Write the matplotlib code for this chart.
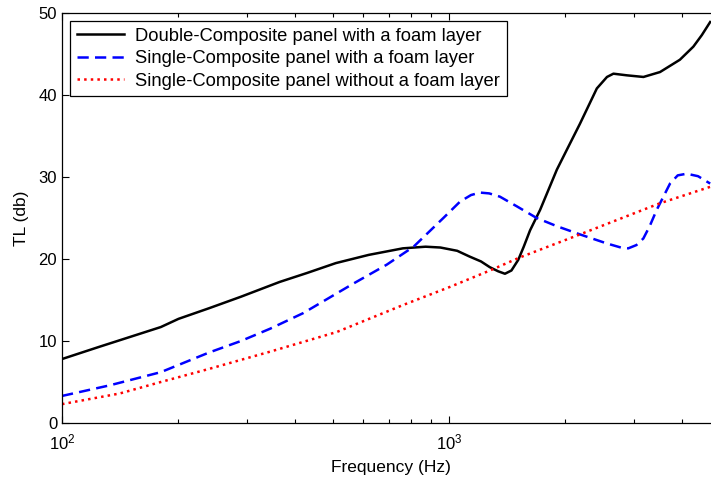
import matplotlib.pyplot as plt
import numpy as np
from matplotlib.ticker import LogLocator, FixedLocator, NullFormatter

plt.rcParams['font.family'] = ['Liberation Sans', 'DejaVu Sans']

# Double-Composite panel with a foam layer
f_double = [100, 125, 150, 180, 200, 240, 290, 365, 430, 510, 620, 760, 870, 950, 1050,
            1130, 1210, 1275, 1340, 1395, 1450, 1510, 1560, 1620, 1720, 1900, 2015,
            2180, 2410, 2560, 2660, 2880, 3180, 3510, 3950, 4280, 4500, 4730]
tl_double = [7.8, 9.3, 10.5, 11.7, 12.7, 14.0, 15.4, 17.2, 18.3, 19.5, 20.5, 21.3, 21.5,
             21.4, 21.0, 20.3, 19.7, 19.0, 18.5, 18.2, 18.6, 19.9, 21.5, 23.5, 26.0,
             30.9, 33.3, 36.5, 40.8, 42.2, 42.6, 42.4, 42.2, 42.8, 44.3, 45.9, 47.3, 48.9]

# Single-Composite panel with a foam layer
f_single = [100, 133, 180, 240, 290, 345, 420, 566, 690, 810, 967, 1068, 1140, 1203,
            1270, 1354, 1500, 1685, 1900, 2180, 2556, 2780, 2906, 3050, 3178, 3300,
            3442, 3725, 3900, 4114, 4400, 4730]
tl_single = [3.3, 4.6, 6.2, 8.6, 10.0, 11.5, 13.4, 17.0, 19.3, 21.5, 25.0, 27.0, 27.8,
             28.1, 28.0, 27.6, 26.4, 25.0, 24.0, 23.0, 21.9, 21.4, 21.3, 21.7, 22.5,
             24.0, 26.0, 29.2, 30.2, 30.4, 30.1, 29.2]

# Single-Composite panel without a foam layer
f_nofoam = [100, 141, 180, 240, 290, 345, 513, 762, 1006, 1276, 1526, 2180, 2800, 3510, 4730]
tl_nofoam = [2.3, 3.6, 5.0, 6.6, 7.7, 8.7, 11.1, 14.4, 16.6, 18.6, 20.2, 23.0, 25.0, 26.8, 28.8]

labels = ['Double-Composite panel with a foam layer',
          'Single-Composite panel with a foam layer',
          'Single-Composite panel without a foam layer']

fig = plt.figure(figsize=(7.11, 4.78), dpi=100)
ax = fig.add_axes([62 / 711, 55 / 478, 657.5 / 711, 410 / 478])

ax.semilogx(f_double, tl_double, '-', color='black', lw=1.8, label=labels[0])
ax.semilogx(f_single, tl_single, '--', color='blue', lw=1.8, dashes=(4.5, 2.5), label=labels[1])
ax.semilogx(f_nofoam, tl_nofoam, ':', color='red', lw=1.8, label=labels[2])

ax.set_xlim(100, 5000)
ax.set_ylim(0, 50)
ax.set_yticks([0, 10, 20, 30, 40, 50])
ax.xaxis.set_major_locator(FixedLocator([100, 1000]))
ax.xaxis.set_minor_locator(LogLocator(base=10, subs=np.arange(2, 10), numticks=10))
ax.xaxis.set_minor_formatter(NullFormatter())
ax.set_xticklabels([r'$\mathregular{10^2}$', r'$\mathregular{10^3}$'])

ax.tick_params(which='both', direction='in', top=True, right=True, labelsize=12, width=0.8)
ax.tick_params(axis='x', pad=7)
ax.tick_params(which='major', length=5)
ax.tick_params(which='minor', length=3)
for s in ax.spines.values():
    s.set_linewidth(0.9)

ax.set_xlabel('Frequency (Hz)', fontsize=12.5, labelpad=5)
ax.set_ylabel('TL (db)', fontsize=12.5, labelpad=7)

leg = ax.legend(loc='upper left', fontsize=13.2, frameon=True, fancybox=False,
                edgecolor='black', framealpha=1, handlelength=2.6,
                borderaxespad=0.45, borderpad=0.35, labelspacing=0.3, handletextpad=0.6)
leg.get_frame().set_linewidth(0.9)

fig.savefig('out.png', dpi=100)
